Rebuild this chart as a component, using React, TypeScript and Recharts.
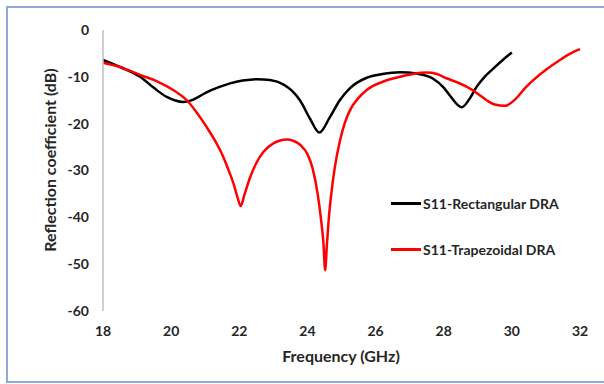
import React from "react";
import { LineChart, Line, XAxis, YAxis, Label } from "recharts";

const xTicks = [18, 20, 22, 24, 26, 28, 30, 32];
const yTicks = [0, -10, -20, -30, -40, -50, -60];

const rectFreq = [18, 18.5, 19.09, 19.5, 19.87, 20.1, 20.36, 20.6, 21.04, 21.4, 21.73, 22.1, 22.51, 22.9, 23.29, 23.55, 23.78, 24.08, 24.35, 24.66, 24.95, 25.25, 25.74, 26.2, 26.72, 27.2, 27.69, 28.0, 28.18, 28.53, 28.75, 28.97, 29.2, 29.46, 29.75, 30];
const rectS11 = [-6.4, -7.9, -10.0, -12.4, -14.3, -15.0, -15.4, -15.0, -13.3, -12.2, -11.4, -10.8, -10.5, -10.7, -11.6, -13.0, -15.0, -19.0, -21.9, -18.6, -15.0, -12.4, -10.2, -9.4, -9.0, -9.3, -10.4, -12.3, -14.0, -16.5, -14.8, -12.1, -10.0, -8.2, -6.3, -4.8];

const trapFreq = [18, 18.5, 19.09, 19.6, 20.06, 20.46, 20.75, 21.04, 21.3, 21.53, 21.7, 21.83, 21.95, 22.04, 22.15, 22.31, 22.5, 22.71, 23.0, 23.2, 23.39, 23.6, 23.8, 24.0, 24.15, 24.3, 24.4, 24.47, 24.52, 24.57, 24.63, 24.7, 24.8, 24.96, 25.1, 25.25, 25.5, 25.74, 26.23, 26.72, 27.1, 27.5, 27.8, 28.08, 28.4, 28.67, 29.0, 29.26, 29.5, 29.8, 30.1, 30.4, 30.63, 31.0, 31.41, 31.7, 32];
const trapS11 = [-7.0, -7.9, -9.6, -11.0, -12.8, -15.0, -17.6, -20.7, -23.8, -27.1, -30.2, -32.8, -35.8, -37.6, -35.2, -31.6, -28.4, -26.0, -24.2, -23.6, -23.4, -23.7, -24.6, -26.5, -29.5, -35.0, -40.5, -45.5, -51.3, -46.0, -40.0, -35.0, -29.5, -23.5, -19.8, -17.1, -14.5, -12.8, -11.0, -10.0, -9.4, -9.1, -9.4, -10.3, -11.2, -12.1, -13.6, -15.0, -15.9, -16.2, -14.8, -12.3, -10.7, -8.5, -6.4, -5.1, -4.1];

const rectData = rectFreq.map((f, i) => ({ f, v: rectS11[i] }));
const trapData = trapFreq.map((f, i) => ({ f, v: trapS11[i] }));

const FONT = "Lato, 'Open Sans', sans-serif";
const TEXT = "#262626";

const legendItems = [
  { name: "S11-Rectangular DRA", color: "#000000" },
  { name: "S11-Trapezoidal DRA", color: "#FF0000" },
];

export default function App() {
  return (
    <div style={{ position: "absolute", left: 0, top: 0, width: 604, height: 384, background: "#fff", overflow: "hidden" }}>
      <div
        style={{
          position: "absolute",
          left: 6,
          top: 6,
          width: 610,
          height: 377,
          borderLeft: "2px solid #8EA9DB",
          borderTop: "2px solid #8EA9DB",
          borderBottom: "2px solid #8EA9DB",
          boxSizing: "border-box",
        }}
      />
      <div style={{ position: "absolute", left: 0, top: 0 }}>
        <LineChart width={604} height={384} margin={{ top: 30, right: 24, bottom: 0, left: 0 }}>
          <XAxis
            dataKey="f"
            type="number"
            domain={[18, 32]}
            ticks={xTicks}
            allowDuplicatedCategory={false}
            axisLine={false}
            tickLine={false}
            tickSize={6}
            tickMargin={9}
            height={73}
            tick={{ fontFamily: FONT, fontWeight: 700, fontSize: 14, fill: TEXT }}
          >
            <Label
              content={() => (
                <text x={341} y={362} textAnchor="middle" fontFamily={FONT} fontWeight={700} fontSize={16} fill={TEXT}>
                  Frequency (GHz)
                </text>
              )}
            />
          </XAxis>
          <YAxis
            type="number"
            domain={[-60, 0]}
            ticks={yTicks}
            width={103}
            axisLine={{ stroke: "#BFBFBF", strokeWidth: 1.5 }}
            tickLine={false}
            tickSize={6}
            tickMargin={8}
            tick={{ fontFamily: FONT, fontWeight: 700, fontSize: 14, fill: TEXT }}
          >
            <Label
              content={() => (
                <text
                  x={56}
                  y={160}
                  transform="rotate(-90, 56, 160)"
                  textAnchor="middle"
                  fontFamily={FONT}
                  fontWeight={700}
                  fontSize={16}
                  fill={TEXT}
                >
                  Reflection coefficient (dB)
                </text>
              )}
            />
          </YAxis>
          <Line
            data={rectData}
            dataKey="v"
            name="S11-Rectangular DRA"
            type="monotone"
            stroke="#000000"
            strokeWidth={2.5}
            dot={false}
            activeDot={false}
            isAnimationActive={false}
          />
          <Line
            data={trapData}
            dataKey="v"
            name="S11-Trapezoidal DRA"
            type="monotone"
            stroke="#FF0000"
            strokeWidth={2.5}
            dot={false}
            activeDot={false}
            isAnimationActive={false}
          />
        </LineChart>
      </div>
      <div
        style={{
          position: "absolute",
          left: 391,
          top: 180,
          fontFamily: FONT,
          fontWeight: 700,
          fontSize: 14,
          color: TEXT,
        }}
      >
        {legendItems.map((it) => (
          <div key={it.name} style={{ display: "flex", alignItems: "center", height: 46 }}>
            <div style={{ width: 30, height: 3, background: it.color, marginRight: 2 }} />
            <span>{it.name}</span>
          </div>
        ))}
      </div>
    </div>
  );
}
